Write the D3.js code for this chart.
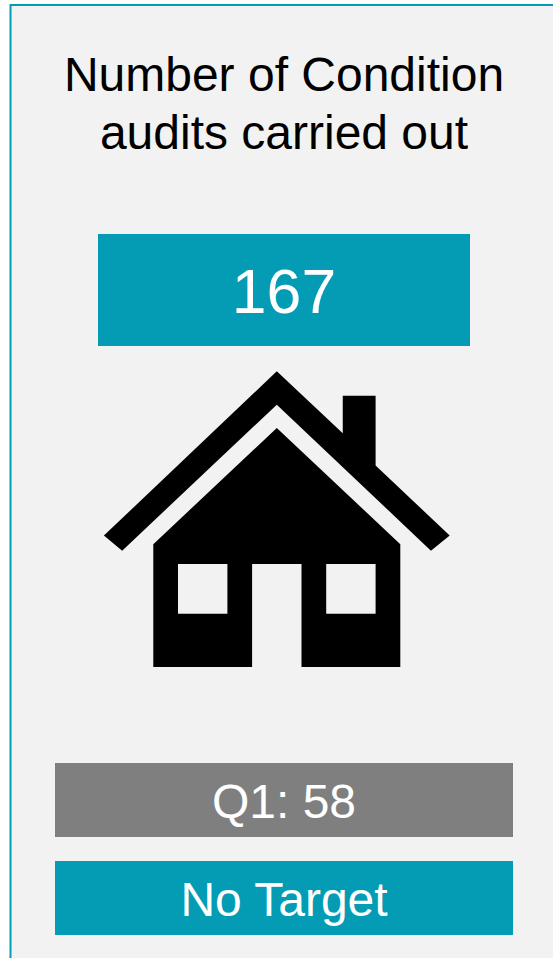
<!DOCTYPE html>
<html>
<head>
<meta charset="utf-8">
<script src="https://cdn.jsdelivr.net/npm/d3@7"></script>
<style>
  html, body { margin: 0; padding: 0; background: #fff; overflow: hidden; }
  text { font-family: "Liberation Sans", Arial, sans-serif; }
</style>
</head>
<body>
<div id="tile"></div>
<script>
var titleLines = ["Number of Condition", "audits carried out"];
var totalValue = [167];
var quarterLabels = ["Q1: 58"];
var targetLabels = ["No Target"];

// House icon, in icon units (one unit = one window half width)
var roofShape = [[5, 11.97], [7.67, 9.46], [7.67, 10.98], [9, 10.98], [9, 8.16], [12, 5.32], [11.24, 4.71], [5, 10.62], [-1.26, 4.71], [-2, 5.32]];
var bodyShape = [[5, 9.68], [10, 4.97], [10, 0], [6, 0], [6, 4.17], [4, 4.17], [4, 0], [0, 0], [0, 4.97]];
var windowShape = [[1, 2.16], [3, 2.16], [3, 4.17], [1, 4.17]];
var windowOffsets = [0, 6];

var width = 553, height = 958;
var teal = "#049cb4", grey = "#7f7f7f", panel = "#f2f2f2";

var svg = d3.select("#tile").append("svg")
    .attr("width", width)
    .attr("height", height)
    .style("display", "block");

// panel runs off the right and bottom of the page
svg.append("rect")
    .attr("x", 10.5).attr("y", 5)
    .attr("width", width).attr("height", height)
    .attr("fill", panel)
    .attr("stroke", teal)
    .attr("stroke-width", 2);

svg.selectAll(".title").data(titleLines).enter().append("text")
    .attr("class", "title")
    .attr("x", 284)
    .attr("y", function(d, i) { return 91 + i * 58; })
    .attr("text-anchor", "middle")
    .attr("font-size", 48)
    .attr("fill", "#000")
    .text(function(d) { return d; });

function labelBox(x, y, w, h, fill, label, size, dy) {
    svg.append("rect")
        .attr("x", x).attr("y", y)
        .attr("width", w).attr("height", h)
        .attr("fill", fill);
    svg.append("text")
        .attr("x", x + w / 2)
        .attr("y", y + dy)
        .attr("text-anchor", "middle")
        .attr("font-size", size)
        .attr("fill", "#fff")
        .text(label);
}

labelBox(98, 234, 372, 112, teal, totalValue[0], 62.5, 79);
labelBox(55, 763, 458, 74, grey, quarterLabels[0], 48, 55);
labelBox(55, 861, 458, 74, teal, targetLabels[0], 48, 55);

// icon scales
var ix = d3.scaleLinear().domain([0, 10]).range([153.3, 400.3]);
var iy = d3.scaleLinear().domain([0, 10]).range([667, 420]);
var iconLine = d3.line()
    .x(function(d) { return ix(d[0]); })
    .y(function(d) { return iy(d[1]); })
    .curve(d3.curveLinearClosed);

var house = svg.append("g");
house.append("path").attr("d", iconLine(roofShape)).attr("fill", "#000");
house.append("path").attr("d", iconLine(bodyShape)).attr("fill", "#000");
house.selectAll(".window").data(windowOffsets).enter().append("path")
    .attr("class", "window")
    .attr("d", function(off) {
        return iconLine(windowShape.map(function(p) { return [p[0] + off, p[1]]; }));
    })
    .attr("fill", panel);
</script>
</body>
</html>
